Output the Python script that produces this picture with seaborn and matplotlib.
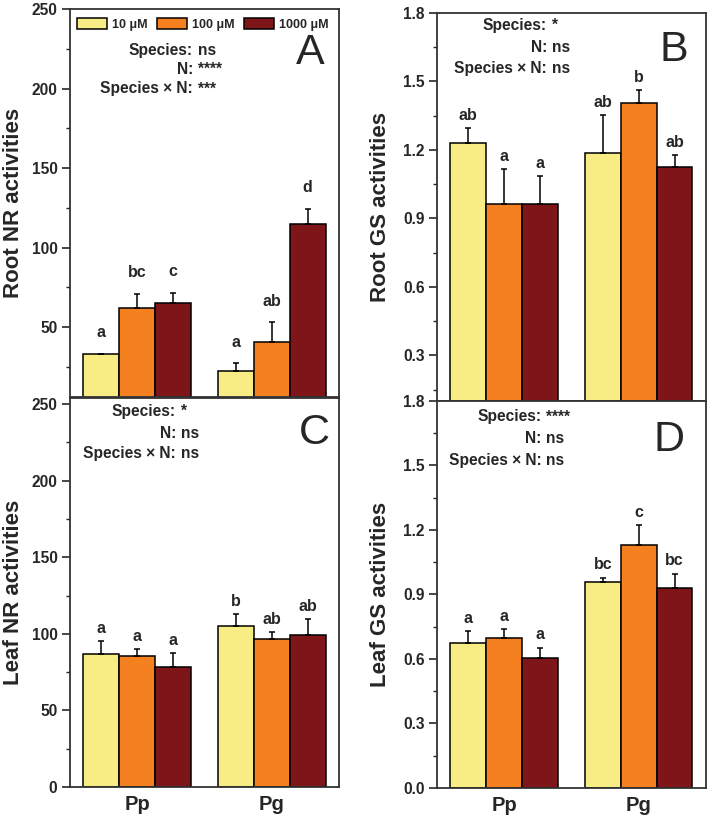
import numpy as np
import pandas as pd
import matplotlib.pyplot as plt
import seaborn as sns
from matplotlib.patches import Patch
from matplotlib.ticker import MultipleLocator

# =========================
# DATA
# =========================
species = ["Pp", "Pg"]
n_levels = ["10 μM", "100 μM", "1000 μM"]
colors = ["#F8EC85", "#F48020", "#7D1519"]

# values ordered [Pp 10, Pp 100, Pp 1000, Pg 10, Pg 100, Pg 1000]
root_nr = [32.8, 62.0, 65.3, 22.5, 40.6, 114.6]
root_nr_err = [0.5, 9.0, 6.3, 4.7, 12.4, 9.6]
root_nr_sig = ["a", "bc", "c", "a", "ab", "d"]

root_gs = [1.229, 0.963, 0.963, 1.188, 1.405, 1.124]
root_gs_err = [0.065, 0.154, 0.123, 0.165, 0.056, 0.054]
root_gs_sig = ["ab", "a", "a", "ab", "b", "ab"]

leaf_nr = [86.8, 85.7, 78.1, 105.2, 96.3, 99.2]
leaf_nr_err = [8.6, 4.3, 9.3, 7.8, 4.8, 10.4]
leaf_nr_sig = ["a", "a", "a", "b", "ab", "ab"]

leaf_gs = [0.674, 0.699, 0.606, 0.958, 1.132, 0.929]
leaf_gs_err = [0.056, 0.041, 0.047, 0.020, 0.091, 0.068]
leaf_gs_sig = ["a", "a", "a", "bc", "c", "bc"]

stats_A = [("Species:", "ns"), ("N:", "****"), ("Species × N:", "***")]
stats_B = [("Species:", "*"), ("N:", "ns"), ("Species × N:", "ns")]
stats_C = [("Species:", "*"), ("N:", "ns"), ("Species × N:", "ns")]
stats_D = [("Species:", "****"), ("N:", "ns"), ("Species × N:", "ns")]

sns.set_style("ticks")
plt.rcParams['font.family'] = ['Liberation Sans', 'DejaVu Sans']
plt.rcParams['font.weight'] = 'bold'

fig = plt.figure(figsize=(7.07, 8.18), dpi=100)

# axes positions (left, bottom, width, height) in figure fraction
axA = fig.add_axes([0.099, 0.5147, 0.3805, 0.4743])
axB = fig.add_axes([0.618, 0.5098, 0.3805, 0.4743])
axC = fig.add_axes([0.099, 0.0379, 0.3805, 0.4756])
axD = fig.add_axes([0.618, 0.0367, 0.3805, 0.4731])

panels = [
    (axA, root_nr, root_nr_err, root_nr_sig, stats_A, "A", "Root NR activities",
     (6, 250), 50, 0.457, [0.894, 0.845, 0.794], (0.948, 0.887), 12),
    (axB, root_gs, root_gs_err, root_gs_sig, stats_B, "B", "Root GS activities",
     (0.1, 1.8), 0.3, 0.409, [0.969, 0.910, 0.856], (0.933, 0.905), 6),
    (axC, leaf_nr, leaf_nr_err, leaf_nr_sig, stats_C, "C", "Leaf NR activities",
     (0, 254), 50, 0.394, [0.965, 0.909, 0.856], (0.967, 0.910), 6),
    (axD, leaf_gs, leaf_gs_err, leaf_gs_sig, stats_D, "D", "Leaf GS activities",
     (0, 1.8), 0.3, 0.389, [0.959, 0.903, 0.847], (0.922, 0.899), 6),
]

for i, (ax, vals, errs, sig, stats, letter, ylabel, ylim, step, colx, rowy, lpos, off) in enumerate(panels):
    df = pd.DataFrame({
        "species": np.repeat(species, 3),
        "N": n_levels * 2,
        "value": vals,
        "err": errs,
        "sig": sig,
    })
    sns.barplot(data=df, x="species", y="value", hue="N", order=species,
                hue_order=n_levels, palette=colors, edgecolor="black",
                linewidth=1.1, errorbar=None, width=0.8, ax=ax, legend=False,
                saturation=1)

    # error bars (upper only) + significance letters
    bar_conts = list(ax.containers)
    for h, cont in enumerate(bar_conts):
        for s, bar in enumerate(cont):
            row = df[(df.species == species[s]) & (df.N == n_levels[h])].iloc[0]
            xc = bar.get_x() + bar.get_width() / 2
            top = bar.get_height()
            ax.errorbar(xc, top, yerr=[[0], [row.err]], fmt="none",
                        ecolor="black", elinewidth=1.1, capsize=2.5,
                        capthick=1.1, zorder=1)
            ax.annotate(row.sig, (xc, top + row.err), xytext=(0, off),
                        textcoords="offset points", ha="center",
                        va="baseline", fontsize=11.5, fontweight="bold")

    ax.set_xlim(-0.5, 1.5)
    ax.set_ylim(*ylim)
    ax.yaxis.set_major_locator(MultipleLocator(step))
    ax.yaxis.set_minor_locator(MultipleLocator(step / 2))
    ax.tick_params(axis="y", which="major", direction="out", length=6,
                   width=1.2, labelsize=11.2, pad=3)
    ax.tick_params(axis="y", which="minor", direction="out", length=3, width=1)
    ax.tick_params(axis="x", length=0, labelsize=14.5, pad=6)
    for lab in ax.get_yticklabels() + ax.get_xticklabels():
        lab.set_fontweight("bold")
    for sp in ax.spines.values():
        sp.set_visible(True)
        sp.set_linewidth(1.3)
        sp.set_color("#333333")

    ax.set_xlabel("")
    ax.set_ylabel(ylabel, fontsize=16, fontweight="bold")
    ax.yaxis.set_label_coords(-0.172, 0.5)
    if i < 2:
        ax.set_xticklabels([])

    for (lab, val), yy in zip(stats, rowy):
        ax.text(colx, yy, lab, transform=ax.transAxes, ha="right",
                va="center", fontsize=11.2, fontweight="bold")
        ax.text(colx + 0.018, yy, val, transform=ax.transAxes, ha="left",
                va="center", fontsize=11.2, fontweight="bold")

    ax.text(lpos[0], lpos[1], letter, transform=ax.transAxes, ha="right",
            va="center", fontsize=31, fontweight="normal")

# legend in panel A
handles = [Patch(facecolor=c, edgecolor="black", linewidth=1.1, label=l)
           for c, l in zip(colors, n_levels)]
axA.legend(handles=handles, loc="upper left", bbox_to_anchor=(0.0, 0.995),
           ncol=3, frameon=False, handlelength=2.4,
           handleheight=0.9, handletextpad=0.4, columnspacing=0.75,
           borderaxespad=0.2, prop={"weight": "bold", "size": 9})

plt.savefig("out.png", dpi=100)
